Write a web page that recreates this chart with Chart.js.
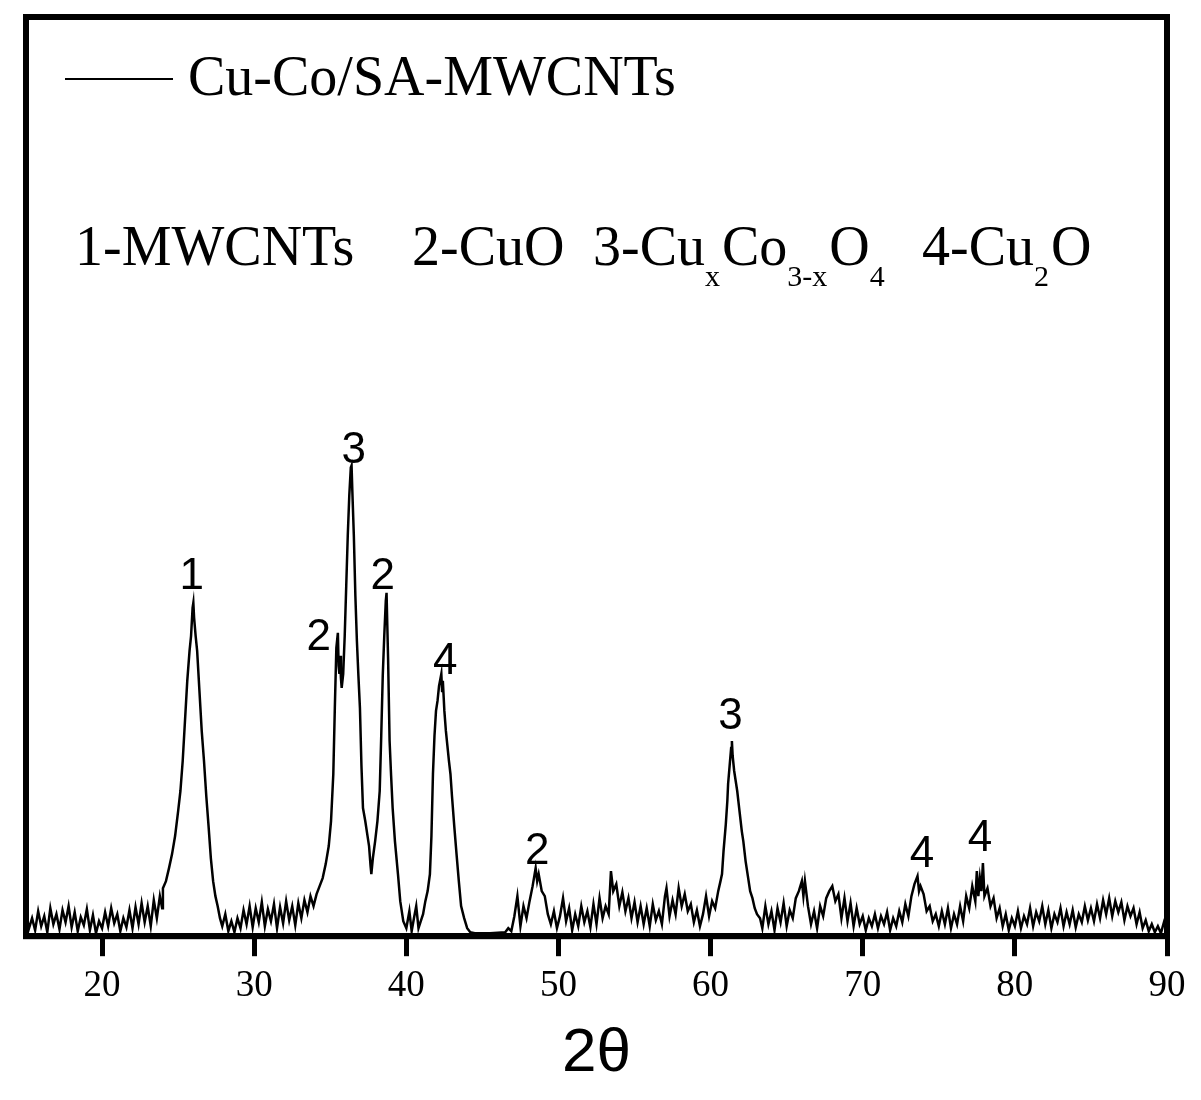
<!DOCTYPE html>
<html>
<head>
<meta charset="utf-8">
<script src="https://cdn.jsdelivr.net/npm/chart.js@4.4.1/dist/chart.umd.min.js"></script>
<style>
  html, body { margin: 0; padding: 0; background: #fff; }
  #wrap { width: 1201px; height: 1100px; }
</style>
</head>
<body>
<div id="wrap"><canvas id="xrd" width="1201" height="1100"></canvas></div>
<script>
// XRD scan (intensity in arbitrary units)
const twoTheta = [
  15.0, 15.2, 15.4, 15.6, 15.8, 16.0, 16.2, 16.4, 16.6, 16.8,
  17.0, 17.2, 17.4, 17.6, 17.8, 18.0, 18.2, 18.4, 18.6, 18.8,
  19.0, 19.2, 19.4, 19.6, 19.8, 20.0, 20.2, 20.4, 20.6, 20.8,
  21.0, 21.2, 21.4, 21.6, 21.8, 22.0, 22.2, 22.4, 22.6, 22.8,
  23.0, 23.2, 23.4, 23.6, 23.8,
  23.95, 24.0, 24.2, 24.4, 24.6, 24.8, 25.0, 25.15, 25.3, 25.45,
  25.6, 25.75, 25.85, 25.95, 26.0, 26.05, 26.15, 26.25, 26.4, 26.55,
  26.7, 26.85, 27.0, 27.15, 27.3, 27.45, 27.6, 27.75,
  27.9, 28.1, 28.3, 28.5, 28.7, 28.9, 29.1, 29.3, 29.5, 29.7,
  29.9, 30.1, 30.3, 30.5, 30.7, 30.9, 31.1, 31.3, 31.5, 31.7,
  31.9, 32.1, 32.3, 32.5, 32.7, 32.9, 33.1, 33.3, 33.5, 33.7,
  33.9,
  34.1, 34.3, 34.5, 34.7, 34.9, 35.05, 35.2, 35.3, 35.4, 35.5,
  35.55, 35.6, 35.65, 35.7, 35.75, 35.85, 35.95, 36.05, 36.15, 36.25,
  36.35, 36.4, 36.45, 36.55, 36.65, 36.75, 36.85, 36.95, 37.05, 37.15,
  37.3, 37.45, 37.55, 37.65, 37.7, 37.8, 37.95, 38.1, 38.25, 38.35,
  38.45, 38.55, 38.65, 38.7, 38.75, 38.8, 38.9, 39.0, 39.1, 39.25,
  39.45, 39.6, 39.8, 40.0,
  40.2, 40.35, 40.5, 40.65, 40.8, 40.95, 41.1, 41.25, 41.4,
  41.55, 41.65, 41.75, 41.85, 41.95, 42.05, 42.15, 42.25, 42.3, 42.35,
  42.4, 42.5, 42.6, 42.7, 42.8, 42.9, 43.0, 43.15, 43.3, 43.45,
  43.6, 43.8, 44.0, 44.2,
  44.5, 45.5, 46.5,
  46.7, 46.9, 47.1, 47.3, 47.5, 47.7, 47.9, 48.1, 48.3, 48.5,
  48.6, 48.7, 48.9, 49.1, 49.3, 49.5, 49.7, 49.9, 50.1, 50.3,
  50.5, 50.7, 50.9, 51.1, 51.3, 51.5, 51.7, 51.9, 52.1, 52.3,
  52.5, 52.7, 52.9, 53.1, 53.3, 53.45, 53.6, 53.8, 54.0, 54.2,
  54.4, 54.6, 54.8, 55.0, 55.2, 55.4, 55.6, 55.8, 56.0, 56.2,
  56.4, 56.6, 56.8, 57.0, 57.1, 57.3, 57.5, 57.7, 57.9, 58.1,
  58.3, 58.5, 58.7, 58.9, 59.1, 59.3, 59.5, 59.7, 59.9, 60.1,
  60.3, 60.5,
  60.65, 60.75, 60.85, 61.0, 61.1, 61.15, 61.25, 61.35, 61.4, 61.45,
  61.55, 61.65, 61.75, 61.9, 62.05, 62.15, 62.3, 62.45, 62.6, 62.75,
  62.9, 63.05, 63.25,
  63.4, 63.6, 63.8, 64.0, 64.2, 64.4, 64.6, 64.8, 65.0, 65.2,
  65.4, 65.6, 65.8, 66.0, 66.1, 66.2, 66.4, 66.6, 66.8, 67.0,
  67.2, 67.4, 67.6, 67.8, 68.0, 68.2, 68.4, 68.6, 68.8, 69.0,
  69.2, 69.4, 69.6, 69.8, 70.0, 70.2, 70.4, 70.6, 70.8, 71.0,
  71.2, 71.4, 71.6, 71.8, 72.0, 72.2, 72.4, 72.6, 72.8, 73.0,
  73.2, 73.4, 73.6, 73.7, 73.8, 74.0, 74.2, 74.4, 74.6, 74.8,
  75.0, 75.2, 75.4, 75.6, 75.8, 76.0, 76.2, 76.4, 76.6, 76.8,
  77.0, 77.2, 77.4, 77.5, 77.6, 77.7, 77.8, 77.9, 78.0, 78.2,
  78.4, 78.6, 78.8, 79.0, 79.2, 79.4, 79.6, 79.8, 80.0, 80.2,
  80.4, 80.6, 80.8, 81.0, 81.2, 81.4, 81.6, 81.8, 82.0, 82.2,
  82.4, 82.6, 82.8, 83.0, 83.2, 83.4, 83.6, 83.8, 84.0, 84.2,
  84.4, 84.6, 84.8, 85.0, 85.2, 85.4, 85.6, 85.8, 86.0, 86.2,
  86.4, 86.6, 86.8, 87.0, 87.2, 87.4, 87.6, 87.8, 88.0, 88.2,
  88.4, 88.6, 88.8, 89.0, 89.2, 89.4, 89.6, 89.8, 90.0
]
const intensity = [
  22, 8, 18, 6, 25, 10, 20, 4, 28, 12,
  22, 7, 26, 14, 30, 9, 24, 5, 19, 11,
  27, 6, 21, 3, 15, 8, 24, 10, 28, 13,
  22, 5, 18, 9, 26, 8, 29, 12, 33, 14,
  30, 10, 36, 18, 40,
  28, 48, 55, 68, 82, 100, 125, 145, 175, 215,
  255, 285, 300, 328, 333, 318, 300, 285, 245, 205,
  175, 140, 110, 78, 55, 40, 30, 18,
  10, 22, 5, 15, 4, 18, 8, 26, 12, 30,
  9, 28, 14, 34, 10, 27, 15, 32, 8, 29,
  13, 35, 16, 30, 11, 33, 18, 36, 24, 40,
  30,
  42, 50, 58, 72, 90, 115, 162, 228, 288, 303,
  270, 262, 280, 258, 248, 262, 300, 350, 400, 440,
  468, 470, 445, 400, 340, 295, 260, 228, 170, 128,
  115, 100, 90, 70, 62, 78, 95, 115, 145, 200,
  260, 300, 335, 343, 310, 278, 195, 160, 128, 95,
  62, 35, 15, 8,
  25, 5, 18, 30, 8, 15, 22, 35, 45,
  62, 100, 162, 200, 225, 235, 250, 258, 262, 245,
  255, 225, 205, 190, 175, 162, 140, 110, 82, 55,
  30, 18, 8, 4,
  3, 3, 4,
  8, 5, 20, 40, 10, 30, 18, 35, 50, 68,
  55, 62, 45, 40, 22, 12, 25, 8, 20, 38,
  15, 28, 6, 22, 10, 30, 14, 25, 9, 32,
  12, 38, 18, 30, 22, 65, 45, 52, 30, 44,
  25, 38, 18, 34, 14, 30, 12, 28, 10, 32,
  16, 25, 12, 40, 48, 20, 36, 22, 48, 30,
  42, 25, 32, 14, 26, 10, 22, 40, 20, 35,
  28, 45,
  55, 62, 85, 112, 135, 152, 170, 188, 195, 180,
  165, 155, 145, 125, 105, 95, 75, 60, 45, 38,
  28, 22, 18,
  8, 30, 12, 25, 6, 28, 14, 33, 10, 26,
  18, 38, 45, 55, 40, 55, 30, 12, 25, 8,
  30, 20, 38, 45, 50, 35, 42, 18, 38, 15,
  33, 10, 28, 12, 20, 6, 18, 10, 22, 8,
  20, 12, 24, 6, 18, 10, 25, 14, 32, 20,
  40, 52, 60, 45, 50, 42, 25, 30, 15, 22,
  10, 25, 12, 28, 8, 22, 12, 30, 15, 40,
  28, 50, 35, 65, 40, 58, 45, 73, 40, 48,
  30, 38, 18, 28, 10, 22, 6, 18, 10, 25,
  8, 20, 12, 28, 10, 24, 15, 30, 12, 26,
  8, 22, 14, 28, 10, 24, 12, 26, 9, 22,
  14, 30, 16, 28, 15, 32, 18, 36, 22, 38,
  20, 35, 24, 34, 16, 30, 20, 28, 12, 24,
  8, 16, 5, 12, 4, 10, 3, 14, 6
]

const tickValues = [20, 30, 40, 50, 60, 70, 80, 90]

// reflection markers above the peaks
const peakTags = ['1', '3', '2', '2', '4', '2', '3', '4', '4']
const peakTagX = [25.9, 36.55, 34.25, 38.45, 42.55, 48.6, 61.3, 73.9, 77.7]
const peakTagY = [363, 489, 302, 363, 278, 88, 223, 85, 101]

// phase key: [text, isSubscript]
const phaseKey = [
  [['1-MWCNTs', false]],
  [['2-CuO', false]],
  [['3-Cu', false], ['x', true], ['Co', false], ['3-x', true], ['O', false], ['4', true]],
  [['4-Cu', false], ['2', true], ['O', false]]
]

const serif = '"Liberation Serif", "Times New Roman", serif'
const sans = '"Liberation Sans", Arial, sans-serif'

const framePlugin = {
  id: 'frame',
  afterDraw (chart) {
    const { ctx, chartArea: a } = chart
    ctx.save()
    ctx.strokeStyle = '#000'
    ctx.lineWidth = 6
    ctx.strokeRect(a.left, a.top, a.right - a.left, a.bottom - a.top)
    ctx.restore()
  }
}

const textPlugin = {
  id: 'texts',
  afterDatasetsDraw (chart) {
    const { ctx, scales: { x, y } } = chart
    ctx.save()
    ctx.fillStyle = '#000'

    // peak numbers
    ctx.font = '44px ' + sans
    ctx.textAlign = 'center'
    ctx.textBaseline = 'alphabetic'
    peakTags.forEach((t, i) => {
      ctx.fillText(t, x.getPixelForValue(peakTagX[i]), y.getPixelForValue(peakTagY[i]) + 16)
    })

    // legend
    ctx.strokeStyle = '#000'
    ctx.lineWidth = 2
    ctx.beginPath()
    ctx.moveTo(65, 79)
    ctx.lineTo(173, 79)
    ctx.stroke()
    ctx.textAlign = 'left'
    ctx.font = '56px ' + serif
    ctx.fillText(chart.data.datasets[0].label, 188, 95)

    // phase key row
    const starts = [75, 412, 593, 922]
    phaseKey.forEach((group, g) => {
      let cx = starts[g]
      group.forEach(([txt, sub]) => {
        ctx.font = (sub ? '30px ' : '56px ') + serif
        ctx.fillText(txt, cx, sub ? 286 : 265)
        cx += ctx.measureText(txt).width + (sub ? 2 : 0)
      })
    })
    ctx.restore()
  }
}

const ctx = document.getElementById('xrd').getContext('2d')
new Chart(ctx, {
  type: 'line',
  data: {
    datasets: [{
      label: 'Cu-Co/SA-MWCNTs',
      data: twoTheta.map((t, i) => ({ x: t, y: intensity[i] })),
      borderColor: '#000',
      borderWidth: 2.5,
      pointRadius: 0,
      tension: 0,
      fill: false
    }]
  },
  options: {
    responsive: false,
    animation: false,
    devicePixelRatio: 1,
    layout: { padding: { left: 26, right: 34, top: 17, bottom: 3 } },
    plugins: {
      legend: { display: false },
      tooltip: { enabled: false }
    },
    scales: {
      x: {
        type: 'linear',
        min: 15,
        max: 90,
        afterBuildTicks: s => { s.ticks = tickValues.map(v => ({ value: v })) },
        grid: { drawOnChartArea: false, drawTicks: true, tickLength: 20, lineWidth: 5, color: '#000' },
        border: { display: true, width: 6, color: '#000' },
        ticks: { color: '#000', font: { family: serif, size: 37 }, padding: 8, maxRotation: 0, autoSkip: false },
        title: { display: true, text: '2θ', color: '#000', font: { family: sans, size: 62 }, padding: { top: 0, bottom: 6 } }
      },
      y: { display: false, min: 0, max: 918 }
    }
  },
  plugins: [framePlugin, textPlugin]
})
</script>
</body>
</html>
